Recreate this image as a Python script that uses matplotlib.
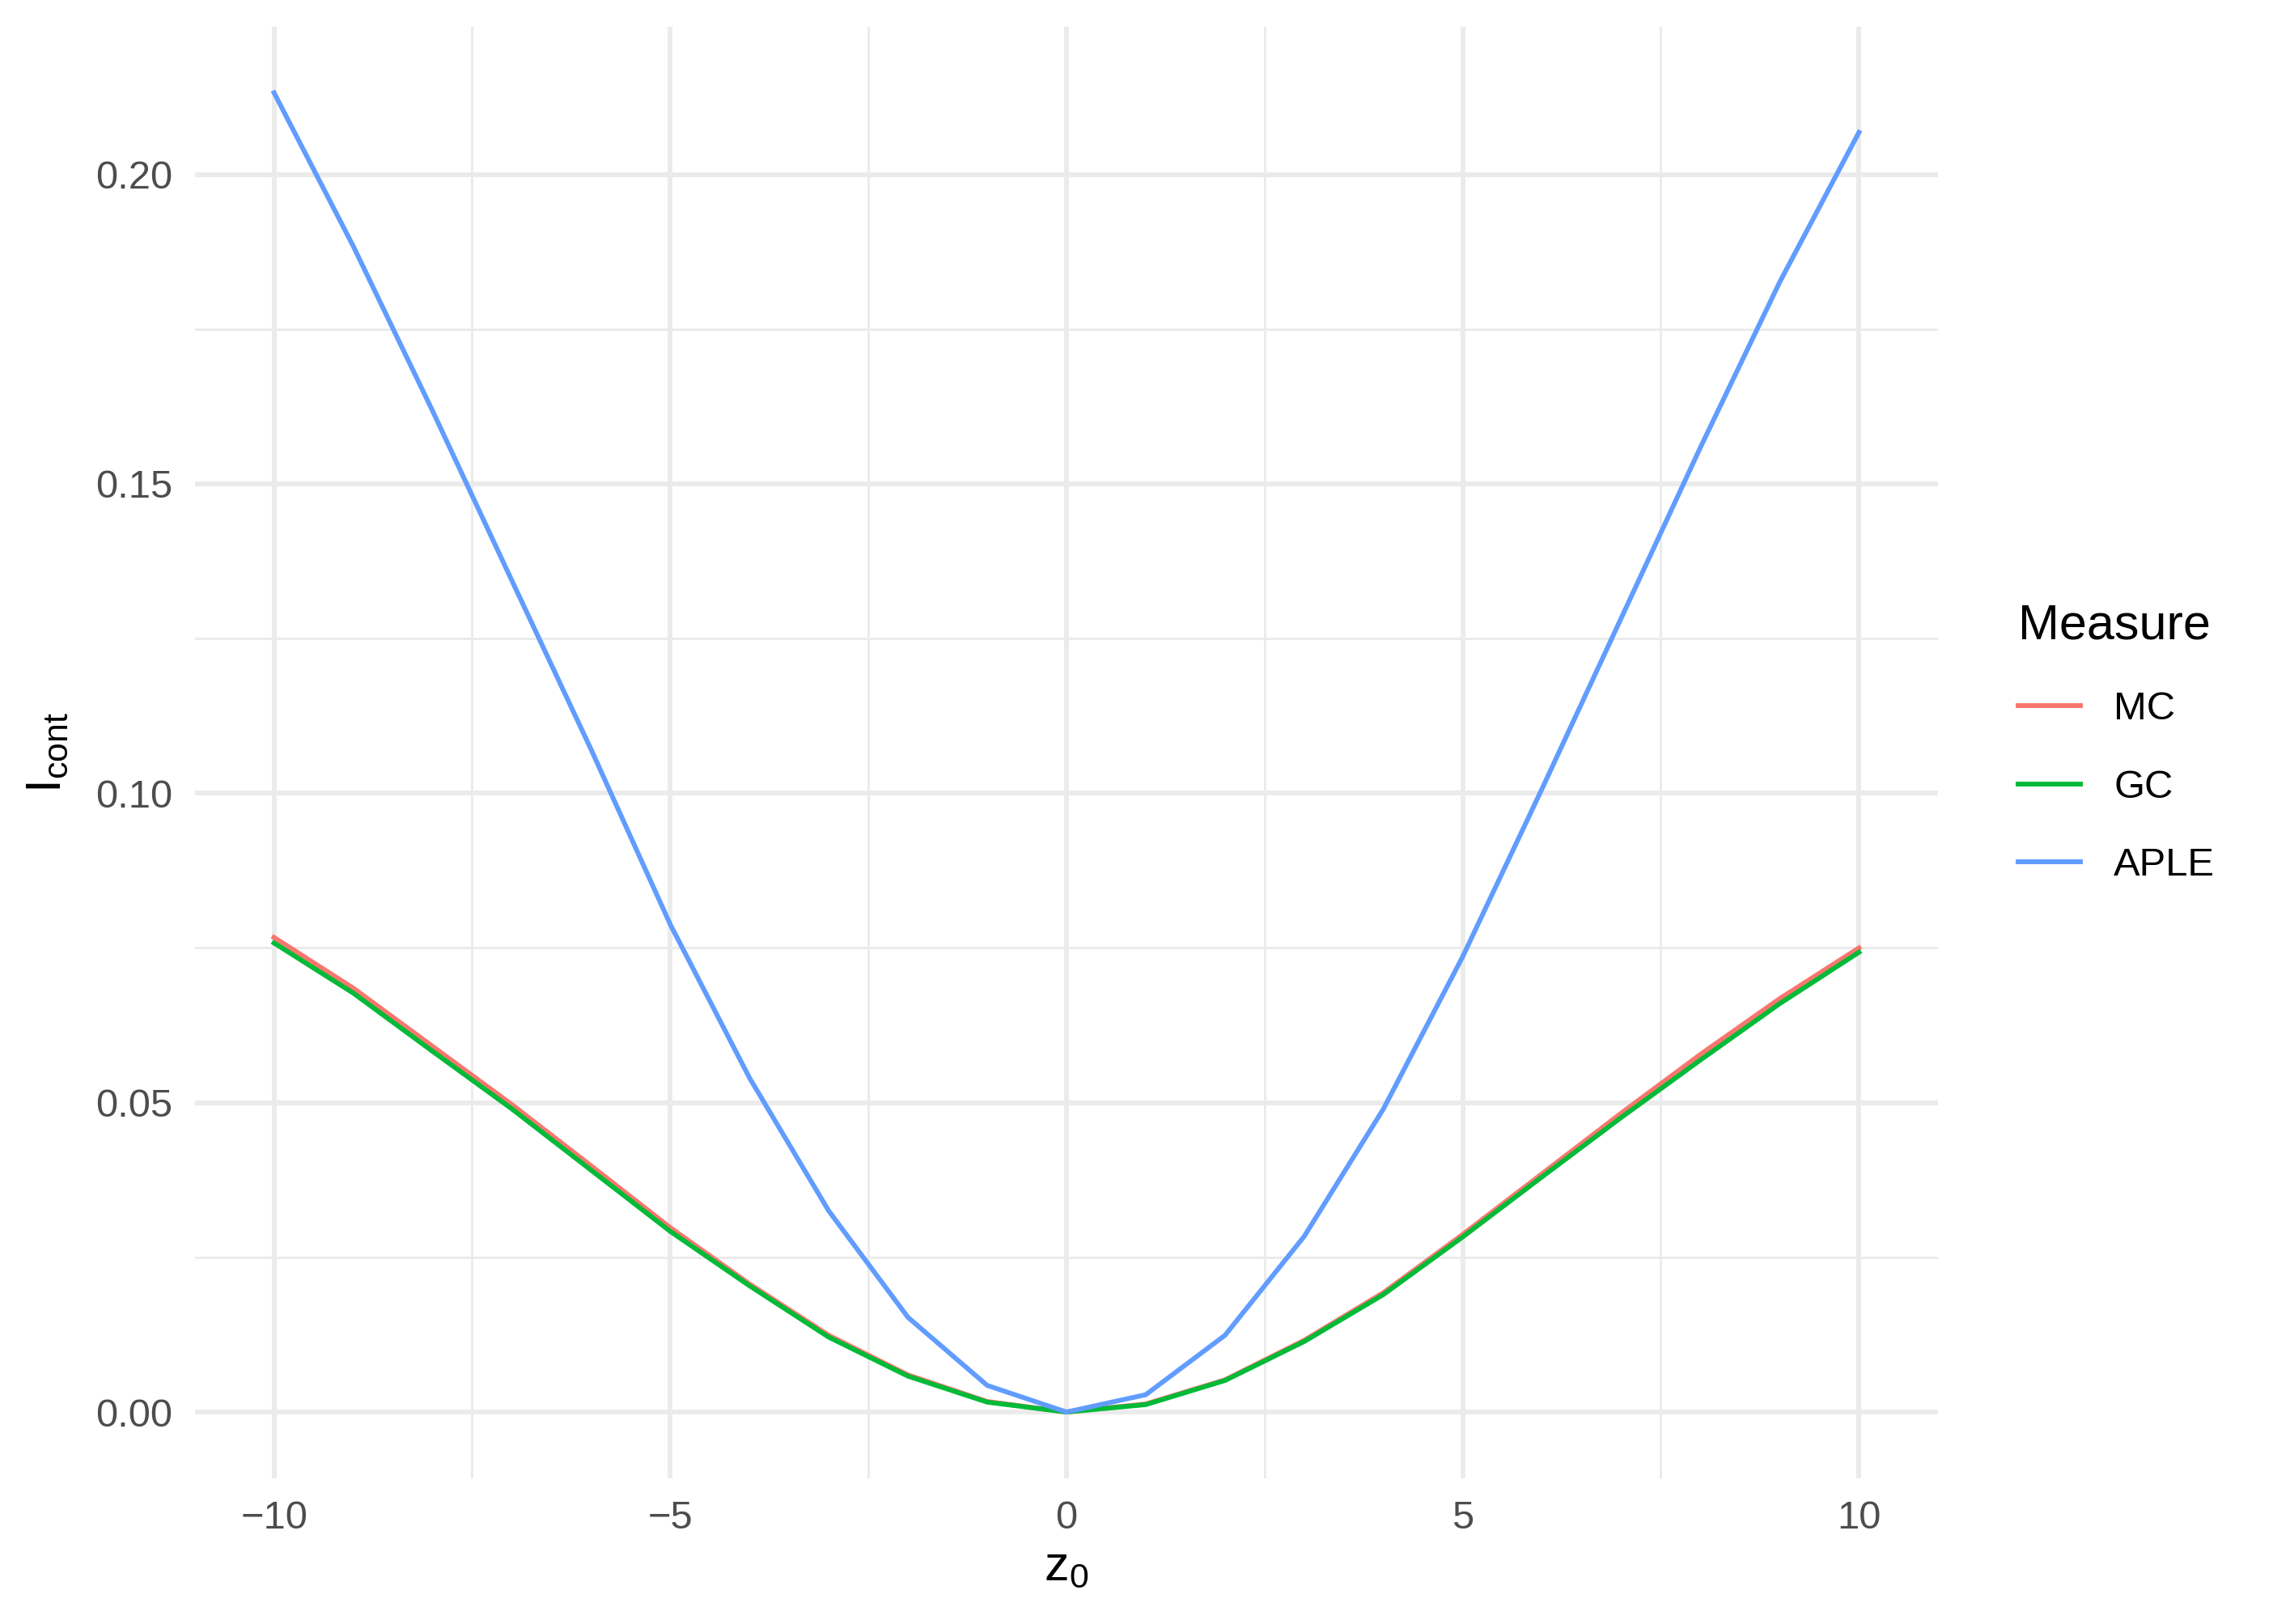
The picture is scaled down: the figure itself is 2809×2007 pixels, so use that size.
import numpy as np
import matplotlib
matplotlib.use("Agg")
import matplotlib.pyplot as plt

# data
z0 = np.arange(-10, 11)
mc = [0.0767, 0.0685, 0.0591, 0.0497, 0.0398, 0.0298, 0.0207, 0.0124, 0.0060, 0.0017, 0.0,
      0.0013, 0.0052, 0.0116, 0.0193, 0.0287, 0.0385, 0.0483, 0.0578, 0.0668, 0.0750]
gc = [0.0758, 0.0677, 0.0583, 0.0490, 0.0391, 0.0292, 0.0204, 0.0121, 0.0058, 0.0016, 0.0,
      0.0012, 0.0051, 0.0114, 0.0190, 0.0283, 0.0380, 0.0476, 0.0569, 0.0660, 0.0743]
aple = [0.2132, 0.1884, 0.1618, 0.1344, 0.1071, 0.0788, 0.0540, 0.0325, 0.0153, 0.0043, 0.0,
        0.0028, 0.0124, 0.0284, 0.0490, 0.0736, 0.1007, 0.1283, 0.1559, 0.1826, 0.2068]

series = [("MC", mc, "#F8766D"), ("GC", gc, "#00BA38"), ("APLE", aple, "#619CFF")]
x_ticks = [-10, -5, 0, 5, 10]
y_ticks = [0.00, 0.05, 0.10, 0.15, 0.20]

plt.rcParams['font.family'] = ['Liberation Sans', 'DejaVu Sans']
plt.rcParams['mathtext.fontset'] = 'custom'
plt.rcParams['mathtext.rm'] = 'Liberation Sans'

DPI = 400
fig = plt.figure(figsize=(2809 / DPI, 2007 / DPI), dpi=DPI)
ax = fig.add_axes([0.0857, 0.0899, 0.7670, 0.8936])

for name, vals, col in series:
    ax.plot(z0, vals, color=col, lw=1.07, label=name, solid_joinstyle='miter')

ax.margins(0.05)

# theme_minimal look
for s in ax.spines.values():
    s.set_visible(False)
ax.set_xticks(x_ticks)
ax.set_yticks(y_ticks)
ax.set_xticklabels([str(v).replace('-', '\u2212') for v in x_ticks])
ax.set_yticklabels([f"{v:.2f}" for v in y_ticks])
ax.set_xticks([-7.5, -2.5, 2.5, 7.5], minor=True)
ax.set_yticks([0.025, 0.075, 0.125, 0.175], minor=True)
ax.tick_params(which='both', length=0, labelsize=8.8, labelcolor='#4D4D4D', pad=4.95)
ax.grid(which='major', color='#EBEBEB', lw=1.07)
ax.grid(which='minor', color='#EBEBEB', lw=0.53)
ax.set_axisbelow(True)

ax.set_xlabel(r'$\mathregular{z_0}$', fontsize=11, labelpad=1.6)
ax.set_ylabel(r'$\mathregular{I_{cont}}$', fontsize=11, labelpad=5.5)

leg = ax.legend(title='Measure', loc='upper left', bbox_to_anchor=(2494 / 2809, 1 - 746 / 2007),
                bbox_transform=fig.transFigure, frameon=False, fontsize=8.8, title_fontsize=11,
                handlelength=1.575, handletextpad=0.84, labelspacing=1.05, borderpad=0,
                borderaxespad=0, alignment='left')

fig.savefig("out.png", dpi=DPI, facecolor='white')
